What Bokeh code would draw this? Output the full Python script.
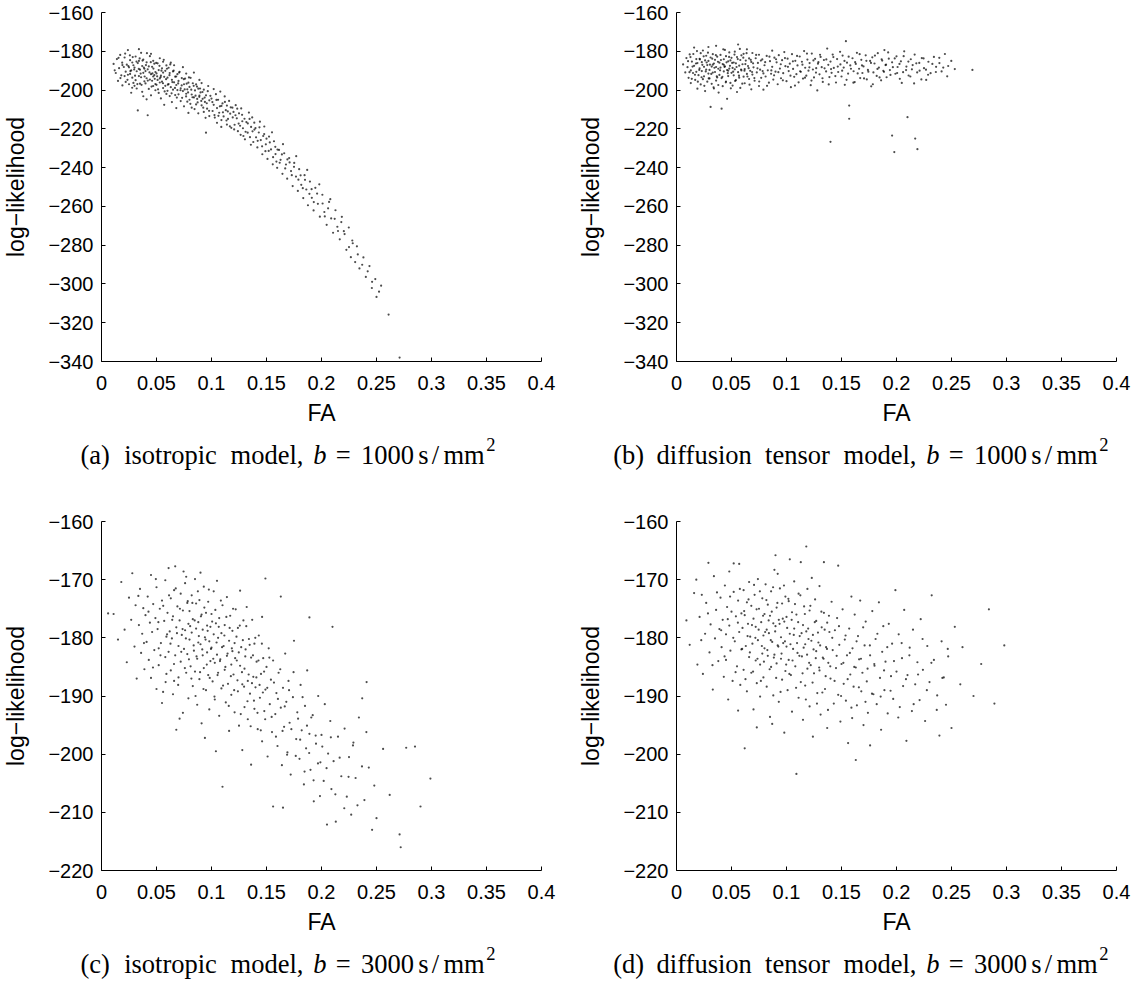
from bokeh.plotting import figure
from bokeh.layouts import row, column
from bokeh.models import Range1d, FixedTicker
from bokeh.core.properties import value
from bokeh.embed import file_html
from bokeh.resources import INLINE

# ---------------- data ----------------
FA_TICKS = [0, 0.05, 0.1, 0.15, 0.2, 0.25, 0.3, 0.35, 0.4]
FA_TICK_LABELS = ["0", "0.05", "0.1", "0.15", "0.2", "0.25", "0.3", "0.35", "0.4"]
LL_TICKS_B1000 = [-340, -320, -300, -280, -260, -240, -220, -200, -180, -160]
LL_TICK_LABELS_B1000 = ["\u2212340", "\u2212320", "\u2212300", "\u2212280", "\u2212260",
                        "\u2212240", "\u2212220", "\u2212200", "\u2212180", "\u2212160"]
LL_TICKS_B3000 = [-220, -210, -200, -190, -180, -170, -160]
LL_TICK_LABELS_B3000 = ["\u2212220", "\u2212210", "\u2212200", "\u2212190", "\u2212180",
                        "\u2212170", "\u2212160"]
X_LABEL = "FA"
Y_LABEL = "log\u2212likelihood"
CAPTION_TAGS = ["(a)", "(b)", "(c)", "(d)"]
CAPTION_MODELS = ["isotropic model,", "diffusion tensor model,"]
B_VALUES = ["1000", "3000"]

# isotropic model, b = 1000 (FA, log-likelihood)
ISO_B1000 = [
    (0.011,-186.5),(0.013,-191.2),(0.014,-184.0),(0.015,-195.3),(0.016,-188.7),(0.017,-181.9),(0.018,-192.4),(0.019,-187.1),(0.012,-189.8),(0.019,-197.6),
    (0.021,-183.2),(0.022,-190.5),(0.022,-195.8),(0.023,-186.9),(0.024,-179.4),(0.024,-192.1),(0.025,-188.3),(0.025,-197.0),(0.026,-184.6),(0.026,-191.7),
    (0.027,-189.9),(0.027,-201.4),(0.028,-185.8),(0.028,-193.6),(0.029,-187.2),(0.029,-196.3),(0.021,-192.8),
    (0.030,-188.4),(0.031,-194.9),(0.031,-182.7),(0.032,-190.3),(0.032,-199.2),(0.033,-186.1),(0.033,-210.5),(0.034,-192.8),(0.034,-185.0),(0.035,-196.7),
    (0.035,-189.5),(0.036,-180.8),(0.036,-193.4),(0.037,-187.6),(0.037,-200.9),(0.038,-191.1),(0.038,-184.3),(0.039,-195.5),(0.039,-189.0),(0.030,-197.8),
    (0.034,-178.9),(0.038,-203.2),
    (0.040,-190.2),(0.040,-196.6),(0.041,-185.7),(0.041,-193.9),(0.042,-213.0),(0.042,-189.3),(0.043,-199.4),(0.043,-187.8),(0.044,-194.6),(0.044,-182.5),
    (0.045,-191.8),(0.045,-202.7),(0.046,-188.0),(0.046,-195.2),(0.047,-184.9),(0.047,-197.9),(0.048,-192.3),(0.048,-186.4),(0.049,-200.1),(0.049,-190.7),
    (0.041,-204.8),(0.045,-181.3),(0.047,-193.0),(0.049,-196.9),
    (0.050,-191.4),(0.050,-197.3),(0.051,-186.2),(0.051,-194.8),(0.052,-201.5),(0.052,-189.7),(0.053,-183.6),(0.053,-196.1),(0.054,-192.5),(0.054,-204.3),
    (0.055,-188.8),(0.055,-195.7),(0.056,-199.0),(0.056,-185.4),(0.057,-193.2),(0.057,-207.6),(0.058,-190.1),(0.058,-197.8),(0.059,-187.3),(0.059,-202.0),
    (0.053,-194.0),(0.056,-191.0),
    (0.060,-193.6),(0.060,-200.4),(0.061,-188.5),(0.061,-196.9),(0.062,-203.1),(0.062,-191.2),(0.063,-185.9),(0.063,-198.5),(0.064,-194.7),(0.064,-206.2),
    (0.065,-190.4),(0.065,-199.8),(0.066,-196.0),(0.066,-187.2),(0.067,-202.6),(0.067,-193.1),(0.068,-197.4),(0.068,-209.3),(0.069,-191.8),(0.069,-200.0),
    (0.070,-195.3),(0.070,-202.2),(0.071,-190.6),(0.072,-199.1),(0.072,-205.7),(0.073,-193.8),(0.074,-200.5),(0.074,-188.2),(0.075,-197.0),(0.075,-208.4),
    (0.076,-194.1),(0.077,-201.9),(0.077,-191.5),(0.078,-199.6),(0.078,-206.0),(0.079,-196.2),(0.079,-211.8),
    (0.080,-198.4),(0.080,-205.0),(0.081,-193.7),(0.082,-202.3),(0.082,-209.1),(0.083,-196.5),(0.084,-203.8),(0.084,-191.0),(0.085,-200.2),(0.086,-207.4),
    (0.086,-197.1),(0.087,-204.6),(0.088,-199.3),(0.088,-212.0),(0.089,-194.8),(0.089,-202.8),
    (0.090,-201.2),(0.091,-207.9),(0.091,-196.4),(0.092,-204.5),(0.093,-211.3),(0.093,-199.8),(0.094,-206.1),(0.095,-222.0),(0.095,-202.7),(0.096,-209.6),
    (0.097,-197.9),(0.098,-205.3),(0.098,-213.4),(0.099,-203.0),
    (0.100,-204.4),(0.101,-210.8),(0.102,-199.5),(0.102,-207.6),(0.103,-214.2),(0.104,-202.1),(0.105,-209.3),(0.105,-216.9),(0.106,-205.0),(0.107,-211.7),
    (0.108,-200.8),(0.109,-208.2),(0.109,-215.5),
    (0.110,-206.9),(0.111,-213.6),(0.112,-203.3),(0.113,-210.4),(0.114,-217.8),(0.114,-208.0),(0.115,-214.9),(0.116,-205.6),(0.117,-212.2),(0.118,-219.5),
    (0.119,-209.1),
    (0.120,-211.3),(0.121,-217.9),(0.122,-207.8),(0.123,-214.6),(0.124,-221.2),(0.125,-212.0),(0.126,-218.4),(0.127,-209.5),(0.128,-216.1),(0.129,-223.7),
    (0.130,-214.8),(0.131,-221.5),(0.133,-217.2),(0.134,-211.6),(0.135,-224.3),(0.136,-219.0),(0.137,-214.1),(0.138,-226.8),(0.139,-220.4),
    (0.140,-219.6),(0.142,-226.2),(0.143,-221.9),(0.144,-216.3),(0.146,-229.0),(0.147,-223.7),(0.148,-218.8),(0.149,-231.5),
    (0.150,-225.1),(0.152,-231.4),(0.153,-227.0),(0.155,-221.8),(0.156,-234.6),(0.158,-229.3),(0.159,-236.9),
    (0.160,-230.7),(0.162,-237.5),(0.164,-233.2),(0.165,-227.9),(0.167,-240.4),(0.169,-235.8),
    (0.171,-237.3),(0.173,-243.9),(0.175,-239.6),(0.177,-234.1),(0.179,-246.2),
    (0.181,-244.0),(0.183,-250.6),(0.185,-246.3),(0.187,-241.2),(0.189,-253.5),
    (0.191,-251.1),(0.193,-257.8),(0.196,-253.4),(0.198,-248.6),
    (0.201,-258.5),(0.203,-265.2),(0.206,-261.0),(0.208,-256.3),
    (0.212,-266.4),(0.215,-272.7),(0.218,-268.1),
    (0.221,-274.3),(0.225,-281.0),(0.228,-277.6),
    (0.233,-284.8),(0.237,-290.1),(0.242,-293.5),(0.246,-298.9),
    (0.250,-306.7),(0.261,-315.8),(0.271,-338.0),
    (0.0155,-183.4),(0.0172,-193.8),(0.0188,-185.9),(0.0203,-188.1),(0.0215,-181.2),(0.0236,-194.7),(0.0244,-187.6),(0.0258,-182.1),(0.0262,-190.2),(0.0279,-198.8),
    (0.0284,-183.0),(0.0297,-189.4),(0.0305,-192.6),(0.0318,-185.3),(0.0326,-196.9),(0.0339,-189.1),(0.0347,-183.7),(0.0356,-191.5),(0.0364,-197.3),(0.0373,-184.8),
    (0.0385,-188.4),(0.0392,-193.0),(0.0404,-187.1),(0.0413,-181.0),(0.0421,-195.1),(0.0436,-190.9),(0.0448,-185.6),(0.0455,-198.2),(0.0463,-191.4),(0.0472,-188.9),
    (0.0484,-194.2),(0.0497,-186.0),(0.0506,-192.9),(0.0514,-199.6),(0.0527,-187.5),(0.0538,-193.3),(0.0545,-190.0),(0.0559,-196.5),(0.0566,-184.4),(0.0574,-200.7),
    (0.0587,-194.4),(0.0595,-189.0),(0.0603,-197.2),(0.0618,-192.3),(0.0625,-186.8),(0.0637,-201.7),(0.0644,-195.9),(0.0656,-190.0),(0.0668,-198.9),(0.0679,-193.0),
    (0.0685,-203.9),(0.0697,-196.6),(0.0706,-191.0),(0.0718,-200.1),(0.0729,-197.6),(0.0733,-204.0),(0.0748,-194.4),(0.0756,-199.7),(0.0769,-203.3),(0.0774,-196.7),
    (0.0787,-201.2),(0.0795,-193.5),(0.0808,-207.1),(0.0816,-199.8),(0.0827,-203.7),(0.0838,-197.8),(0.0846,-209.8),(0.0855,-202.9),(0.0868,-198.2),(0.0874,-206.4),
    (0.0889,-203.5),(0.0896,-199.2),(0.0907,-205.6),(0.0918,-201.0),(0.0925,-209.1),(0.0938,-203.9),(0.0946,-214.3),(0.0957,-206.8),(0.0966,-200.6),(0.0978,-210.7),
    (0.1008,-206.2),(0.1027,-212.9),(0.1045,-205.1),(0.1063,-213.3),(0.1076,-208.4),(0.1089,-219.0),(0.1104,-211.5),(0.1122,-206.1),(0.1136,-215.7),(0.1148,-211.0),
    (0.1167,-218.7),(0.1175,-208.9),(0.1193,-214.1),(0.1206,-220.3),(0.1218,-213.0),(0.1234,-209.6),(0.1247,-217.3),(0.1265,-223.1),(0.1278,-212.8),(0.1286,-219.7),
    (0.1304,-225.4),(0.1317,-216.5),(0.1329,-222.0),(0.1346,-214.9),(0.1358,-228.2),(0.1373,-221.3),(0.1389,-216.8),(0.1405,-224.4),(0.1417,-229.6),(0.1436,-219.2),
    (0.1448,-225.8),(0.1462,-233.1),(0.1479,-222.7),(0.1494,-228.0),(0.1509,-235.5),(0.1523,-224.0),(0.1541,-230.6),(0.1557,-238.3),(0.1568,-226.4),(0.1582,-233.0),
    (0.1597,-240.1),(0.1614,-230.9),(0.1628,-236.0),(0.1645,-243.2),(0.1661,-232.6),(0.1677,-238.4),(0.1688,-245.7),(0.1706,-235.1),(0.1723,-241.8),(0.1738,-249.5),
    (0.1752,-237.6),(0.1768,-244.6),(0.1785,-252.0),(0.1797,-240.8),(0.1816,-248.9),(0.1834,-255.7),(0.1846,-243.9),(0.1862,-251.3),(0.1877,-259.4),(0.1895,-247.2),
    (0.1912,-255.6),(0.1928,-262.1),(0.1944,-250.4),(0.1967,-258.7),(0.1985,-265.3),(0.2008,-254.0),(0.2026,-262.9),(0.2047,-269.5),(0.2069,-257.7),(0.2088,-266.2),
    (0.2105,-273.6),(0.2127,-262.0),(0.2144,-270.5),(0.2166,-277.0),(0.2185,-265.4),(0.2203,-272.8),(0.2226,-282.4),(0.2248,-270.9),(0.2267,-286.2),(0.2284,-279.0),
    (0.2306,-288.7),(0.2322,-280.6),(0.2345,-292.0),(0.2381,-286.3),(0.2403,-296.4),(0.2436,-290.8),(0.2458,-302.1),(0.2489,-297.5),(0.2523,-304.0),(0.2542,-300.9),
]

# diffusion tensor model, b = 1000
DTI_B1000 = [
    (0.006,-186.8),(0.008,-190.9),(0.009,-183.5),
    (0.010,-188.2),(0.011,-193.7),(0.012,-181.6),(0.013,-189.9),(0.013,-196.4),(0.014,-185.3),(0.015,-191.2),(0.016,-178.1),(0.016,-187.5),(0.017,-194.8),
    (0.018,-184.0),(0.018,-190.6),(0.019,-199.3),(0.019,-186.1),
    (0.020,-192.3),(0.021,-183.9),(0.021,-188.8),(0.022,-197.1),(0.022,-181.0),(0.023,-190.2),(0.023,-185.6),(0.024,-194.4),(0.024,-179.6),(0.025,-188.0),
    (0.025,-192.9),(0.026,-184.7),(0.026,-200.5),(0.027,-189.4),(0.027,-182.3),(0.028,-195.7),(0.028,-187.1),(0.029,-191.5),(0.029,-185.0),(0.029,-177.8),
    (0.030,-189.6),(0.030,-194.0),(0.031,-183.2),(0.031,-208.7),(0.032,-187.9),(0.032,-196.8),(0.033,-181.5),(0.033,-191.0),(0.034,-186.3),(0.034,-199.2),
    (0.035,-184.4),(0.035,-190.7),(0.036,-177.2),(0.036,-188.1),(0.037,-193.5),(0.037,-182.8),(0.038,-189.0),(0.038,-197.4),(0.039,-185.9),(0.039,-192.2),
    (0.033,-186.9),(0.036,-195.1),
    (0.040,-188.4),(0.040,-181.9),(0.041,-209.6),(0.041,-193.8),(0.042,-186.6),(0.042,-198.0),(0.043,-184.1),(0.043,-190.4),(0.044,-179.3),(0.044,-187.8),
    (0.045,-195.6),(0.045,-182.5),(0.046,-204.5),(0.046,-189.7),(0.047,-185.2),(0.047,-192.8),(0.048,-180.6),(0.048,-188.9),(0.049,-196.3),(0.049,-184.7),
    (0.043,-187.0),(0.047,-190.0),
    (0.050,-191.1),(0.050,-183.4),(0.051,-188.6),(0.051,-197.7),(0.052,-185.8),(0.052,-192.4),(0.053,-180.2),(0.053,-189.3),(0.054,-194.9),(0.054,-186.2),
    (0.055,-201.0),(0.055,-183.0),(0.056,-190.8),(0.056,-176.5),(0.057,-187.4),(0.057,-193.6),(0.058,-184.5),(0.058,-198.9),(0.059,-189.9),(0.059,-182.1),
    (0.060,-186.7),(0.061,-193.1),(0.061,-181.3),(0.062,-189.2),(0.062,-196.5),(0.063,-184.8),(0.064,-191.7),(0.064,-179.0),(0.065,-187.6),(0.066,-194.3),
    (0.066,-183.7),(0.067,-190.1),(0.068,-199.6),(0.068,-185.5),(0.069,-192.0),(0.069,-180.9),
    (0.070,-188.3),(0.071,-195.2),(0.072,-183.6),(0.073,-190.9),(0.074,-186.0),(0.075,-197.9),(0.075,-181.8),(0.076,-189.5),(0.077,-193.7),(0.078,-184.2),
    (0.079,-191.4),(0.079,-199.8),
    (0.080,-187.2),(0.081,-193.0),(0.082,-182.4),(0.083,-189.8),(0.084,-196.2),(0.085,-185.1),(0.086,-191.6),(0.087,-179.7),(0.087,-188.0),(0.088,-194.6),
    (0.089,-183.3),
    (0.090,-190.5),(0.091,-185.7),(0.092,-197.0),(0.093,-182.0),(0.094,-188.9),(0.095,-193.9),(0.096,-184.6),(0.097,-191.3),(0.098,-180.4),(0.099,-187.7),
    (0.100,-195.4),(0.101,-183.8),(0.102,-190.2),(0.103,-186.4),(0.104,-198.5),(0.105,-181.5),(0.106,-189.1),(0.107,-193.2),(0.108,-184.9),(0.109,-191.8),
    (0.110,-187.3),(0.111,-196.0),(0.112,-182.7),(0.113,-190.6),(0.114,-185.4),(0.115,-194.1),(0.116,-179.9),(0.117,-188.5),(0.118,-192.6),(0.119,-184.3),
    (0.120,-190.0),(0.121,-186.1),(0.122,-197.5),(0.123,-181.2),(0.124,-189.4),(0.125,-193.5),(0.126,-183.9),(0.127,-188.7),(0.128,-200.2),(0.129,-185.6),
    (0.130,-191.9),(0.131,-182.9),(0.132,-188.2),(0.133,-195.8),(0.134,-184.5),(0.136,-190.4),(0.137,-178.6),(0.138,-187.0),(0.139,-193.3),
    (0.140,-185.3),(0.140,-226.7),(0.141,-191.1),(0.142,-181.7),(0.143,-188.6),(0.145,-196.1),(0.146,-184.0),(0.147,-190.7),(0.149,-186.8),
    (0.150,-193.0),(0.151,-182.2),(0.152,-188.4),(0.153,-197.3),(0.154,-174.8),(0.155,-185.9),(0.156,-191.5),(0.157,-208.0),(0.157,-214.8),(0.158,-187.3),
    (0.160,-183.6),(0.161,-190.3),(0.162,-195.9),(0.163,-186.5),(0.164,-180.8),(0.166,-189.0),(0.167,-193.8),(0.168,-184.4),(0.169,-191.2),
    (0.170,-187.8),(0.172,-182.1),(0.173,-194.5),(0.174,-189.6),(0.176,-185.0),(0.177,-198.1),(0.178,-183.1),(0.179,-190.9),
    (0.180,-186.3),(0.182,-192.7),(0.183,-181.0),(0.184,-188.4),(0.186,-195.0),(0.187,-184.8),(0.188,-190.1),(0.189,-179.4),
    (0.190,-187.1),(0.191,-193.4),(0.193,-183.8),(0.194,-189.7),(0.196,-223.5),(0.196,-185.7),(0.198,-232.0),(0.199,-191.6),
    (0.200,-182.6),(0.201,-188.1),(0.203,-194.2),(0.204,-185.2),(0.206,-190.8),(0.207,-180.0),(0.209,-187.9),(0.210,-214.0),
    (0.211,-192.5),(0.213,-184.1),(0.214,-189.3),(0.216,-196.6),(0.217,-225.0),(0.218,-186.2),(0.219,-230.5),
    (0.221,-190.0),(0.223,-183.5),(0.225,-188.7),(0.227,-194.8),(0.229,-185.4),
    (0.231,-191.3),(0.234,-182.9),(0.236,-188.0),(0.239,-186.1),
    (0.241,-190.4),(0.244,-181.4),(0.247,-187.6),(0.253,-189.2),(0.269,-189.6),
    (0.0105,-185.1),(0.0118,-190.8),(0.0127,-183.0),(0.0139,-194.2),(0.0146,-187.9),(0.0153,-181.4),(0.0168,-192.1),(0.0177,-186.3),(0.0186,-179.9),(0.0194,-195.7),
    (0.0207,-189.6),(0.0213,-184.2),(0.0228,-193.4),(0.0235,-187.0),(0.0247,-182.6),(0.0253,-197.8),(0.0266,-190.4),(0.0274,-185.8),(0.0286,-180.7),(0.0293,-194.0),
    (0.0304,-186.9),(0.0316,-191.7),(0.0325,-183.8),(0.0337,-198.6),(0.0345,-188.5),(0.0358,-182.0),(0.0366,-192.9),(0.0377,-185.4),(0.0383,-201.3),(0.0396,-189.8),
    (0.0404,-184.5),(0.0417,-193.2),(0.0425,-179.0),(0.0436,-188.0),(0.0448,-196.0),(0.0455,-185.7),(0.0466,-191.3),(0.0478,-182.9),(0.0486,-187.5),(0.0494,-199.1),
    (0.0506,-186.0),(0.0515,-190.5),(0.0527,-181.7),(0.0533,-195.3),(0.0546,-188.1),(0.0557,-184.0),(0.0568,-192.6),(0.0576,-178.8),(0.0587,-189.4),(0.0598,-196.7),
    (0.0607,-183.3),(0.0618,-190.0),(0.0626,-186.6),(0.0637,-181.0),(0.0645,-193.0),(0.0656,-188.7),(0.0664,-197.2),(0.0675,-184.4),(0.0687,-190.7),(0.0696,-186.2),
    (0.0708,-193.8),(0.0724,-181.9),(0.0736,-188.8),(0.0752,-195.6),(0.0767,-184.8),(0.0783,-190.2),(0.0806,-185.6),(0.0823,-197.8),(0.0845,-182.8),(0.0862,-189.9),
    (0.0887,-192.4),(0.0905,-184.1),(0.0926,-190.8),(0.0948,-186.7),(0.0967,-195.0),(0.0986,-183.5),(0.1013,-188.0),(0.1036,-192.6),(0.1058,-185.2),(0.1077,-197.7),
    (0.1096,-182.4),(0.1124,-190.3),(0.1145,-186.9),(0.1168,-193.6),(0.1186,-181.2),(0.1208,-188.3),(0.1227,-195.1),(0.1245,-184.7),(0.1268,-191.0),(0.1286,-186.4),
    (0.1305,-181.8),(0.1327,-193.9),(0.1346,-188.8),(0.1362,-184.2),(0.1384,-197.1),(0.1405,-189.2),(0.1426,-183.0),(0.1444,-192.8),(0.1466,-187.9),(0.1487,-180.3),
    (0.1506,-190.0),(0.1527,-185.0),(0.1546,-194.7),(0.1565,-182.8),(0.1586,-189.0),(0.1608,-196.2),(0.1624,-185.6),(0.1647,-191.4),(0.1665,-181.5),(0.1686,-187.3),
    (0.1705,-194.0),(0.1726,-184.9),(0.1744,-190.5),(0.1768,-186.0),(0.1785,-197.0),(0.1804,-182.2),(0.1827,-189.1),(0.1846,-193.5),(0.1865,-184.1),(0.1886,-190.6),
    (0.1905,-186.9),(0.1924,-180.6),(0.1945,-192.2),(0.1967,-188.2),(0.1984,-183.7),(0.2006,-191.2),(0.2027,-186.5),(0.2048,-196.3),(0.2065,-182.5),(0.2087,-189.7),
    (0.2108,-185.3),(0.2126,-193.0),(0.2147,-187.1),(0.2165,-181.7),(0.2188,-190.9),(0.2207,-186.0),(0.2226,-194.5),(0.2246,-183.7),(0.2268,-189.5),(0.2287,-192.1),
    (0.2326,-186.5),(0.2358,-190.7),(0.2389,-183.4),(0.2425,-188.4),(0.2461,-192.9),(0.2498,-185.0),
]

# isotropic model, b = 3000
ISO_B3000 = [
    (0.006,-175.8),(0.011,-175.9),(0.015,-180.3),(0.018,-170.4),
    (0.021,-178.6),(0.023,-184.2),(0.025,-173.1),(0.027,-176.9),(0.028,-168.9),(0.030,-181.5),(0.031,-174.4),(0.032,-187.0),(0.034,-177.8),(0.035,-171.6),
    (0.036,-182.6),(0.037,-179.3),(0.038,-174.9),(0.039,-185.4),
    (0.040,-176.1),(0.041,-180.7),(0.042,-172.9),(0.043,-183.8),(0.044,-177.4),(0.045,-169.2),(0.045,-186.9),(0.046,-179.0),(0.047,-174.2),(0.048,-182.1),
    (0.049,-176.6),(0.050,-188.8),(0.050,-171.3),(0.051,-178.5),(0.052,-184.7),(0.053,-175.0),(0.054,-180.9),(0.055,-191.2),(0.055,-173.6),(0.056,-189.3),
    (0.057,-177.1),(0.058,-183.3),(0.058,-170.1),(0.059,-179.8),(0.059,-186.2),(0.052,-181.8),
    (0.060,-175.7),(0.061,-182.4),(0.061,-168.0),(0.062,-178.9),(0.063,-185.6),(0.063,-173.2),(0.064,-180.1),(0.065,-176.3),(0.065,-189.7),(0.066,-171.8),
    (0.067,-167.7),(0.067,-183.0),(0.068,-195.8),(0.068,-178.2),(0.069,-174.6),(0.070,-181.4),(0.070,-186.8),(0.071,-177.0),(0.072,-172.4),(0.072,-184.1),
    (0.073,-179.5),(0.074,-192.9),(0.074,-175.3),(0.075,-181.9),(0.076,-170.6),(0.076,-178.7),(0.077,-186.0),(0.078,-174.0),(0.078,-182.8),(0.079,-177.6),
    (0.079,-190.4),(0.071,-193.9),(0.066,-187.4),(0.077,-169.5),
    (0.080,-180.3),(0.080,-175.4),(0.081,-184.9),(0.082,-172.7),(0.082,-179.1),(0.083,-188.3),(0.083,-176.8),(0.084,-182.2),(0.085,-169.9),(0.085,-185.8),
    (0.086,-178.4),(0.086,-174.1),(0.087,-183.6),(0.087,-191.5),(0.088,-177.3),(0.088,-180.8),(0.089,-173.5),(0.089,-187.1),(0.090,-168.8),(0.090,-181.1),
    (0.091,-176.0),(0.091,-194.7),(0.092,-183.0),(0.092,-178.6),(0.093,-185.2),(0.093,-171.2),(0.094,-179.9),(0.095,-189.0),(0.095,-175.7),(0.096,-182.5),
    (0.096,-177.9),(0.097,-186.4),(0.097,-173.8),(0.098,-180.6),(0.098,-192.3),(0.099,-184.0),(0.099,-178.1),(0.094,-197.2),
    (0.100,-181.7),(0.100,-175.9),(0.101,-187.5),(0.102,-179.4),(0.102,-172.0),(0.103,-184.3),(0.103,-190.6),(0.104,-177.5),(0.105,-182.9),(0.105,-170.2),
    (0.106,-186.0),(0.106,-180.0),(0.107,-193.4),(0.107,-176.6),(0.108,-183.7),(0.109,-179.2),(0.109,-188.7),(0.110,-174.4),(0.110,-205.6),(0.111,-181.4),
    (0.112,-185.5),(0.112,-177.8),(0.113,-191.1),(0.114,-183.1),(0.114,-173.0),(0.115,-187.9),(0.116,-180.5),(0.116,-196.0),(0.117,-176.2),(0.118,-184.6),
    (0.118,-189.8),(0.119,-178.8),(0.119,-182.3),(0.104,-199.5),
    (0.120,-186.3),(0.121,-180.9),(0.121,-192.8),(0.122,-175.1),(0.123,-183.9),(0.124,-189.2),(0.124,-178.3),(0.125,-195.1),(0.126,-184.8),(0.126,-171.9),
    (0.127,-181.6),(0.128,-188.0),(0.128,-199.3),(0.129,-177.0),(0.130,-185.3),(0.130,-191.9),(0.131,-182.0),(0.132,-174.7),(0.133,-187.4),(0.133,-194.0),
    (0.134,-180.2),(0.135,-189.6),(0.136,-183.4),(0.136,-201.8),(0.137,-176.9),(0.138,-186.7),(0.139,-192.2),(0.139,-181.0),
    (0.140,-188.5),(0.141,-184.1),(0.142,-195.7),(0.143,-179.6),(0.144,-190.3),(0.145,-186.2),(0.146,-197.8),(0.146,-176.4),(0.147,-183.5),(0.148,-192.6),
    (0.149,-169.8),(0.149,-188.9),(0.150,-185.0),(0.151,-200.4),(0.152,-181.8),(0.153,-191.4),(0.154,-187.2),(0.155,-196.2),(0.156,-209.0),(0.156,-183.9),
    (0.158,-193.1),(0.159,-189.5),
    (0.160,-198.6),(0.161,-186.0),(0.163,-172.9),(0.163,-192.0),(0.164,-201.9),(0.165,-209.2),(0.165,-188.6),(0.166,-195.3),(0.167,-182.7),(0.168,-191.0),
    (0.169,-199.7),(0.170,-187.4),(0.171,-194.6),(0.172,-203.5),(0.174,-190.2),(0.175,-180.5),(0.177,-197.4),(0.178,-192.8),
    (0.180,-200.8),(0.181,-188.1),(0.182,-195.9),(0.184,-205.2),(0.185,-191.7),(0.186,-199.0),(0.187,-185.6),(0.189,-176.5),(0.189,-196.5),(0.190,-202.7),
    (0.192,-193.3),(0.193,-208.1),(0.195,-198.2),(0.197,-190.0),(0.199,-201.4),
    (0.200,-196.7),(0.202,-204.6),(0.203,-191.4),(0.205,-212.1),(0.206,-199.9),(0.208,-194.3),(0.209,-206.0),(0.210,-178.1),(0.211,-201.2),(0.213,-211.6),
    (0.215,-197.0),(0.218,-203.8),
    (0.221,-195.6),(0.223,-207.3),(0.225,-200.5),(0.227,-210.4),(0.229,-198.0),(0.231,-204.1),(0.234,-193.7),(0.237,-190.4),(0.239,-207.9),
    (0.241,-187.6),(0.243,-202.3),(0.246,-213.0),(0.248,-205.4),(0.250,-211.0),(0.256,-199.1),
    (0.262,-207.0),(0.271,-213.8),(0.272,-216.0),(0.277,-198.9),(0.285,-198.7),(0.290,-209.0),(0.299,-204.2),
    (0.0335,-172.8),(0.0386,-180.9),(0.0427,-175.5),(0.0468,-185.1),(0.0494,-169.9),(0.0517,-177.3),(0.0536,-183.0),(0.0561,-174.5),(0.0583,-187.6),(0.0596,-179.4),
    (0.0614,-172.7),(0.0627,-181.0),(0.0643,-176.9),(0.0659,-184.5),(0.0675,-171.5),(0.0686,-179.2),(0.0697,-188.1),(0.0713,-175.0),(0.0725,-182.4),(0.0737,-178.5),
    (0.0746,-168.6),(0.0758,-185.2),(0.0767,-180.1),(0.0784,-173.7),(0.0795,-183.7),(0.0806,-178.0),(0.0817,-187.0),(0.0826,-174.0),(0.0838,-181.3),(0.0847,-177.0),
    (0.0855,-190.0),(0.0864,-183.2),(0.0876,-172.0),(0.0885,-179.7),(0.0896,-185.9),(0.0904,-176.3),(0.0916,-182.0),(0.0927,-188.8),(0.0935,-174.8),(0.0946,-180.3),
    (0.0957,-184.6),(0.0965,-178.8),(0.0976,-171.7),(0.0984,-186.9),(0.0995,-181.9),(0.1006,-177.2),(0.1016,-183.6),(0.1027,-190.1),(0.1035,-175.2),(0.1046,-180.8),
    (0.1055,-186.4),(0.1066,-178.1),(0.1077,-184.0),(0.1085,-173.6),(0.1096,-181.6),(0.1105,-188.2),(0.1117,-179.6),(0.1126,-185.0),(0.1135,-176.4),(0.1146,-182.7),
    (0.1157,-191.7),(0.1165,-178.3),(0.1176,-186.6),(0.1185,-181.8),(0.1196,-175.0),(0.1206,-189.0),(0.1215,-183.5),(0.1227,-179.8),(0.1236,-187.3),(0.1248,-182.5),
    (0.1257,-177.9),(0.1266,-193.1),(0.1277,-185.9),(0.1285,-180.4),(0.1296,-188.4),(0.1307,-183.2),(0.1316,-178.0),(0.1327,-190.9),(0.1338,-186.3),(0.1347,-181.2),
    (0.1356,-195.2),(0.1368,-187.8),(0.1377,-183.0),(0.1386,-190.8),(0.1398,-180.0),(0.1408,-186.8),(0.1418,-192.9),(0.1427,-183.9),(0.1437,-188.1),(0.1448,-195.9),
    (0.1458,-181.0),(0.1467,-189.4),(0.1478,-185.8),(0.1488,-194.0),(0.1507,-188.6),(0.1526,-183.4),(0.1547,-193.6),(0.1568,-187.7),(0.1586,-197.0),(0.1604,-190.5),
    (0.1625,-185.4),(0.1646,-196.0),(0.1666,-191.8),(0.1687,-200.1),(0.1705,-189.0),(0.1726,-195.7),(0.1746,-185.9),(0.1766,-200.3),(0.1787,-193.9),(0.1806,-197.5),
    (0.1828,-190.2),(0.1846,-203.0),(0.1868,-195.1),(0.1888,-199.8),(0.1907,-193.7),(0.1928,-204.5),(0.1947,-196.8),(0.1968,-201.6),(0.1986,-207.2),(0.2007,-198.7),
    (0.2046,-202.4),(0.2085,-197.1),(0.2126,-206.9),(0.2165,-200.6),(0.2207,-209.3),(0.2246,-203.9),(0.2286,-198.5),(0.2327,-208.8),(0.2368,-202.1),(0.2408,-196.2),
]

# diffusion tensor model, b = 3000
DTI_B3000 = [
    (0.009,-177.0),(0.012,-181.2),(0.016,-172.3),(0.018,-170.0),(0.019,-184.6),
    (0.021,-176.4),(0.023,-172.6),(0.024,-186.2),(0.026,-179.3),(0.027,-174.0),(0.029,-167.1),(0.030,-182.5),(0.031,-177.7),(0.033,-188.9),(0.034,-169.4),
    (0.035,-180.1),(0.036,-175.2),(0.038,-184.0),(0.039,-178.5),
    (0.040,-173.1),(0.041,-181.6),(0.042,-176.9),(0.043,-186.7),(0.044,-171.0),(0.045,-179.4),(0.045,-183.8),(0.046,-174.7),(0.047,-190.6),(0.048,-177.9),
    (0.048,-168.6),(0.049,-182.2),(0.050,-175.5),(0.051,-187.4),(0.052,-172.1),(0.052,-167.2),(0.053,-180.6),(0.054,-176.3),(0.055,-184.9),(0.056,-173.6),
    (0.057,-167.3),(0.057,-179.0),(0.058,-188.1),(0.059,-182.0),(0.059,-175.8),(0.056,-192.5),
    (0.060,-178.3),(0.061,-171.8),(0.061,-185.5),(0.062,-199.0),(0.062,-176.1),(0.063,-181.4),(0.064,-173.9),(0.064,-189.2),(0.065,-177.6),(0.066,-183.3),
    (0.066,-170.4),(0.067,-179.8),(0.068,-186.0),(0.068,-174.5),(0.069,-181.0),(0.070,-192.3),(0.070,-176.7),(0.071,-172.6),(0.072,-183.9),(0.072,-178.1),
    (0.073,-187.8),(0.074,-169.9),(0.074,-180.4),(0.075,-175.0),(0.076,-184.6),(0.076,-190.1),(0.077,-177.3),(0.078,-173.2),(0.078,-182.7),(0.079,-179.6),
    (0.079,-186.8),(0.073,-195.4),
    (0.080,-175.9),(0.080,-181.8),(0.081,-170.8),(0.082,-178.6),(0.082,-188.4),(0.083,-174.3),(0.083,-183.1),(0.084,-179.2),(0.085,-193.6),(0.085,-176.2),
    (0.086,-185.0),(0.086,-172.0),(0.087,-180.7),(0.088,-177.5),(0.088,-189.9),(0.089,-182.9),(0.089,-168.3),(0.090,-165.8),(0.090,-178.0),(0.091,-184.4),
    (0.091,-174.8),(0.092,-181.3),(0.093,-191.0),(0.093,-176.9),(0.094,-171.5),(0.095,-183.6),(0.095,-179.9),(0.096,-187.2),(0.096,-174.1),(0.097,-180.9),
    (0.098,-196.3),(0.098,-177.2),(0.099,-185.7),(0.099,-172.9),(0.087,-194.8),(0.092,-169.0),
    (0.100,-181.5),(0.100,-176.4),(0.101,-189.0),(0.102,-173.7),(0.102,-183.8),(0.103,-166.5),(0.103,-179.3),(0.104,-186.4),(0.105,-175.6),(0.105,-192.7),
    (0.106,-181.9),(0.107,-170.3),(0.107,-178.4),(0.108,-184.9),(0.109,-203.4),(0.109,-176.0),(0.110,-182.6),(0.111,-190.3),(0.111,-172.4),(0.112,-179.7),
    (0.113,-187.6),(0.113,-167.0),(0.114,-183.2),(0.115,-177.8),(0.115,-194.1),(0.116,-174.6),(0.117,-181.1),(0.117,-188.2),(0.118,-164.3),(0.118,-178.9),
    (0.119,-185.3),(0.119,-171.6),
    (0.120,-180.2),(0.121,-191.8),(0.121,-175.3),(0.122,-184.7),(0.123,-169.7),(0.124,-179.5),(0.124,-197.0),(0.125,-186.1),(0.126,-173.4),(0.127,-182.3),
    (0.127,-177.1),(0.128,-189.5),(0.129,-180.8),(0.130,-171.1),(0.130,-185.6),(0.131,-193.2),(0.132,-178.2),(0.133,-183.4),(0.134,-167.0),(0.134,-175.7),
    (0.135,-188.8),(0.136,-181.6),(0.137,-195.5),(0.137,-177.4),(0.138,-184.3),(0.139,-179.0),
    (0.140,-187.0),(0.141,-173.8),(0.142,-182.1),(0.143,-191.3),(0.144,-178.7),(0.145,-185.2),(0.146,-176.6),(0.147,-167.6),(0.147,-189.8),(0.148,-181.2),
    (0.149,-194.4),(0.150,-184.5),(0.151,-175.1),(0.152,-187.9),(0.153,-180.3),(0.154,-190.8),(0.155,-183.0),(0.156,-198.1),(0.157,-178.4),(0.158,-186.3),
    (0.159,-172.9),(0.159,-192.0),
    (0.160,-181.8),(0.161,-188.4),(0.162,-176.0),(0.163,-201.0),(0.163,-185.1),(0.164,-191.6),(0.165,-179.7),(0.166,-183.7),(0.167,-173.6),(0.168,-189.2),
    (0.169,-186.0),(0.170,-195.0),(0.171,-181.3),(0.172,-177.2),(0.173,-187.5),(0.174,-192.9),(0.176,-198.5),(0.176,-183.0),(0.178,-175.4),(0.179,-189.7),
    (0.180,-184.8),(0.181,-180.2),(0.182,-191.4),(0.184,-173.9),(0.185,-186.9),(0.186,-195.8),(0.187,-182.4),(0.188,-178.0),(0.189,-189.0),(0.190,-184.1),
    (0.192,-193.0),(0.193,-177.6),(0.195,-186.6),(0.196,-181.0),(0.197,-190.5),(0.199,-171.8),
    (0.200,-185.8),(0.202,-179.4),(0.203,-191.9),(0.205,-183.5),(0.206,-188.3),(0.207,-175.2),(0.209,-197.7),(0.210,-186.4),(0.212,-181.7),(0.214,-192.6),
    (0.215,-178.6),(0.217,-188.0),(0.219,-184.2),
    (0.221,-190.7),(0.222,-176.8),(0.224,-185.5),(0.226,-194.3),(0.228,-181.4),(0.230,-187.6),(0.232,-172.7),(0.234,-183.8),(0.237,-189.9),(0.239,-196.8),
    (0.241,-180.6),(0.243,-186.8),(0.245,-191.5),(0.247,-183.2),(0.250,-195.5),(0.253,-178.1),(0.258,-188.0),
    (0.260,-181.6),(0.270,-190.0),(0.277,-184.5),(0.284,-175.1),(0.289,-191.3),(0.298,-181.3),
    (0.0225,-180.4),(0.0286,-175.8),(0.0327,-184.7),(0.0368,-172.2),(0.0406,-178.7),(0.0437,-183.2),(0.0466,-176.8),(0.0487,-172.9),(0.0516,-180.0),(0.0537,-185.9),
    (0.0558,-177.4),(0.0576,-171.6),(0.0597,-181.9),(0.0615,-175.4),(0.0627,-187.1),(0.0646,-179.7),(0.0655,-173.4),(0.0667,-182.5),(0.0686,-177.8),(0.0696,-185.8),
    (0.0705,-170.9),(0.0717,-180.0),(0.0728,-175.1),(0.0736,-183.6),(0.0747,-178.6),(0.0758,-172.0),(0.0767,-187.4),(0.0776,-181.4),(0.0787,-176.2),(0.0795,-184.1),
    (0.0806,-179.0),(0.0817,-173.5),(0.0826,-182.1),(0.0838,-177.0),(0.0847,-185.4),(0.0857,-180.4),(0.0866,-175.5),(0.0878,-171.3),(0.0885,-183.4),(0.0897,-178.9),
    (0.0906,-186.9),(0.0917,-174.0),(0.0926,-181.5),(0.0937,-177.6),(0.0946,-189.3),(0.0955,-182.7),(0.0966,-176.7),(0.0977,-171.0),(0.0986,-180.6),(0.0997,-184.6),
    (0.1006,-178.3),(0.1017,-173.3),(0.1026,-186.2),(0.1036,-181.1),(0.1047,-176.9),(0.1055,-183.9),(0.1066,-179.5),(0.1077,-174.2),(0.1087,-188.6),(0.1096,-180.9),
    (0.1106,-177.3),(0.1117,-183.1),(0.1126,-172.7),(0.1137,-179.2),(0.1146,-186.1),(0.1156,-181.7),(0.1167,-175.9),(0.1176,-190.6),(0.1187,-182.9),(0.1197,-178.4),
    (0.1206,-184.3),(0.1217,-174.5),(0.1226,-180.5),(0.1237,-187.7),(0.1246,-182.0),(0.1257,-177.3),(0.1266,-183.5),(0.1277,-191.3),(0.1286,-179.1),(0.1297,-185.1),
    (0.1306,-181.3),(0.1317,-175.5),(0.1326,-189.4),(0.1337,-183.6),(0.1347,-178.6),(0.1356,-186.6),(0.1368,-181.9),(0.1377,-192.4),(0.1386,-176.2),(0.1398,-184.9),
    (0.1416,-180.0),(0.1437,-187.4),(0.1456,-183.1),(0.1477,-178.0),(0.1496,-190.0),(0.1517,-184.3),(0.1537,-179.6),(0.1556,-187.1),(0.1576,-182.6),(0.1597,-193.8),
    (0.1616,-185.0),(0.1637,-180.6),(0.1658,-188.5),(0.1677,-183.6),(0.1697,-178.2),(0.1718,-191.0),(0.1737,-185.3),(0.1758,-181.3),(0.1777,-189.6),(0.1798,-184.5),
    (0.1826,-179.3),(0.1856,-190.1),(0.1887,-185.6),(0.1916,-181.6),(0.1946,-189.1),(0.1977,-184.0),(0.2016,-193.7),(0.2047,-180.9),(0.2086,-187.1),(0.2117,-183.0),
    (0.2156,-191.4),(0.2196,-186.3),(0.2237,-180.2),(0.2276,-189.0),(0.2317,-184.3),(0.2366,-192.4),(0.2417,-186.9),(0.2466,-181.9),
]

# ---------------- styling / layout ----------------
TICK_FONT = "Liberation Sans"
TICK_SIZE = "20px"
LABEL_SIZE = "23px"
CAP_FONT = "Liberation Serif"
CAP_SIZE = "26.5px"
SUP_SIZE = "18.5px"

FRAME_W = 442
FRAME_H = 349
LEFT_A, RIGHT_A = 99, 34       # panel (a)/(c) frame 99..541
LEFT_B, RIGHT_B = 99, 15       # panel (b)/(d) frame 674..1116
TOP_1, BOTTOM_1 = 12, 70       # top row: frame 12..361, ends 431
CAP1_H = 78                    # caption row 431..509
TOP_2, BOTTOM_2 = 12, 70       # bottom row: 509.., frame 521..870, ends 940
CAP2_H = 40                    # caption row 940..980
TOTAL_W = LEFT_A + FRAME_W + RIGHT_A + LEFT_B + FRAME_W + RIGHT_B
TEXT_SHIFT = 10                # text glyphs sit ~10px below the requested baseline
CAP1_BASE = 464 - 431 - TEXT_SHIFT
CAP2_BASE = 973 - 940 - TEXT_SHIFT

# word centres (px) for the captions; tail offsets measured from caption end
LEFT_CENTRES = [94.7, 170.0, 266.5]
LEFT_END = 495
RIGHT_CENTRES = [628.1, 703.7, 797.0, 879.5]
RIGHT_END = 1108
TAIL_OFFSETS = [-175.7, -152.3, -108.1, -72.0, -60.1, -31.4, -4.6]


def make_panel(points, yticks, ylabels, left, right, top, bottom):
    ylo, yhi = yticks[0], yticks[-1]
    p = figure(width=left + FRAME_W + right, height=top + FRAME_H + bottom,
               x_range=Range1d(0, 0.4), y_range=Range1d(ylo, yhi), title=None,
               output_backend="svg", toolbar_location=None,
               min_border_left=left, min_border_right=right,
               min_border_top=top, min_border_bottom=bottom)
    p.outline_line_color = None
    p.grid.visible = False
    p.xaxis.ticker = FixedTicker(ticks=FA_TICKS)
    p.xaxis.major_label_overrides = {t: s for t, s in zip(FA_TICKS, FA_TICK_LABELS)}
    p.yaxis.ticker = FixedTicker(ticks=yticks)
    p.yaxis.major_label_overrides = {t: s for t, s in zip(yticks, ylabels)}
    for ax in (p.xaxis, p.yaxis):
        ax.axis_line_color = "black"
        ax.axis_line_width = 1
        ax.major_tick_line_color = "black"
        ax.major_tick_in = 4
        ax.major_tick_out = 0
        ax.minor_tick_line_color = None
        ax.major_label_text_font = TICK_FONT
        ax.major_label_text_font_size = TICK_SIZE
        ax.major_label_text_color = "black"
        ax.axis_label_text_font = TICK_FONT
        ax.axis_label_text_font_size = LABEL_SIZE
        ax.axis_label_text_font_style = "normal"
        ax.axis_label_text_color = "black"
    p.xaxis.major_label_standoff = 14
    p.yaxis.major_label_standoff = 8
    p.xaxis.axis_label = X_LABEL
    p.yaxis.axis_label = Y_LABEL
    p.xaxis.axis_label_standoff = 7
    p.yaxis.axis_label_standoff = 16

    xs = [pt[0] for pt in points]
    ys = [pt[1] for pt in points]
    p.scatter(xs, ys, marker="circle", size=2.2, fill_color="black",
              fill_alpha=0.7, line_color=None)
    return p


def caption_words(tag, model, bval, centres, end):
    words = [(w, x, "r") for w, x in zip([tag] + model.split(" "), centres)]
    tail = [("b", "i"), ("=", "r"), (bval, "r"), ("s", "r"), ("/", "r"), ("mm", "r"), ("2", "sup")]
    for (w, kind), off in zip(tail, TAIL_OFFSETS):
        words.append((w, end + off, kind))
    return words


def make_caption_row(height, baseline, words):
    p = figure(width=TOTAL_W, height=height, title=None,
               x_range=Range1d(0, TOTAL_W), y_range=Range1d(height, 0),
               output_backend="svg", toolbar_location=None,
               x_axis_location=None, y_axis_location=None,
               min_border_left=0, min_border_right=0, min_border_top=0, min_border_bottom=0)
    p.outline_line_color = None
    p.grid.visible = False
    for kind, size, style, dy in (("r", CAP_SIZE, "normal", 0), ("i", CAP_SIZE, "italic", 0),
                                  ("sup", SUP_SIZE, "normal", -10)):
        sel = [w for w in words if w[2] == kind]
        p.text(x=[w[1] for w in sel], y=[baseline + dy] * len(sel), text=[w[0] for w in sel],
               text_font=value(CAP_FONT), text_font_size=value(size),
               text_font_style=style, text_align="center", text_baseline="alphabetic",
               text_color="black")
    return p


pa = make_panel(ISO_B1000, LL_TICKS_B1000, LL_TICK_LABELS_B1000, LEFT_A, RIGHT_A, TOP_1, BOTTOM_1)
pb = make_panel(DTI_B1000, LL_TICKS_B1000, LL_TICK_LABELS_B1000, LEFT_B, RIGHT_B, TOP_1, BOTTOM_1)
pc = make_panel(ISO_B3000, LL_TICKS_B3000, LL_TICK_LABELS_B3000, LEFT_A, RIGHT_A, TOP_2, BOTTOM_2)
pd = make_panel(DTI_B3000, LL_TICKS_B3000, LL_TICK_LABELS_B3000, LEFT_B, RIGHT_B, TOP_2, BOTTOM_2)

cap1 = make_caption_row(CAP1_H, CAP1_BASE,
                        caption_words(CAPTION_TAGS[0], CAPTION_MODELS[0], B_VALUES[0], LEFT_CENTRES, LEFT_END)
                        + caption_words(CAPTION_TAGS[1], CAPTION_MODELS[1], B_VALUES[0], RIGHT_CENTRES, RIGHT_END))
cap2 = make_caption_row(CAP2_H, CAP2_BASE,
                        caption_words(CAPTION_TAGS[2], CAPTION_MODELS[0], B_VALUES[1], LEFT_CENTRES, LEFT_END)
                        + caption_words(CAPTION_TAGS[3], CAPTION_MODELS[1], B_VALUES[1], RIGHT_CENTRES, RIGHT_END))

layout = column(row(pa, pb, spacing=0), cap1, row(pc, pd, spacing=0), cap2, spacing=0)

with open("out.html", "w") as f:
    f.write(file_html(layout, INLINE))
